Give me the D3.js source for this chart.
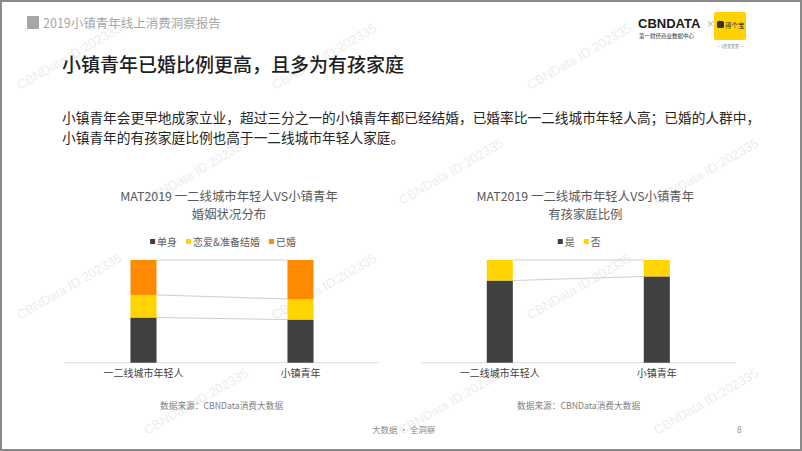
<!DOCTYPE html>
<html><head><meta charset="utf-8">
<script src="https://cdn.jsdelivr.net/npm/d3@7"></script>
<style>
html,body{margin:0;padding:0;background:#fff;}
svg{display:block;font-family:"Noto Sans CJK SC","Noto Sans",sans-serif;}
</style></head>
<body>
<svg id="c" width="802" height="451"></svg>
<script>
// ---- data ----
const categories = ["一二线城市年轻人", "小镇青年"];
const maritalSeries = ["单身", "恋爱&准备结婚", "已婚"];
const singleVals  = [44, 42];
const datingVals  = [22, 20];
const marriedVals = [34, 38];
const childSeries = ["是", "否"];
const withChildVals = [80, 84];
const noChildVals   = [20, 16];
const chart1Title = ["MAT2019 一二线城市年轻人VS小镇青年", "婚姻状况分布"];
const chart2Title = ["MAT2019 一二线城市年轻人VS小镇青年", "有孩家庭比例"];
const sourceText = "数据来源：CBNData消费大数据";

const svg = d3.select("#c");
const W = 802, H = 451;

// watermarks (kept fully inside the page)
const wm = svg.append("g").attr("fill", "#ededed").attr("font-size", 13).attr("font-family", "Liberation Sans, Arial, sans-serif");
for (let r = 0; r < 4; r++) {
  for (let i = 0; i < 3; i++) {
    const x = 20 + i * 255 + (r % 2) * 127, y = 90 + r * 115;
    wm.append("text").attr("transform", `translate(${x},${y}) rotate(-30)`).text("CBNData ID:202335");
  }
}

// frame
svg.append("rect").attr("x", 1).attr("y", 1).attr("width", W - 2).attr("height", H - 2)
  .attr("fill", "none").attr("stroke", "#8a8a8a").attr("stroke-width", 2);

// header
svg.append("rect").attr("x", 27).attr("y", 16).attr("width", 12).attr("height", 13).attr("fill", "#a6a6a6");
svg.append("text").attr("x", 43).attr("y", 27.5).attr("font-size", 12.5).attr("fill", "#a6a6a6")
  .text("2019小镇青年线上消费洞察报告");

// logo
const lg = svg.append("g");
lg.append("text").attr("x", 638).attr("y", 28).attr("font-size", 13).attr("font-weight", "bold")
  .attr("font-family", "Liberation Sans, Arial, sans-serif").attr("fill", "#1a1a1a").text("CBNDATA");
lg.append("text").attr("x", 639).attr("y", 38).attr("font-size", 5.5).attr("fill", "#333").text("第一财经商业数据中心");
lg.append("text").attr("x", 706).attr("y", 27).attr("font-size", 9).attr("fill", "#999").text("×");
lg.append("rect").attr("x", 714).attr("y", 12).attr("width", 32).attr("height", 28).attr("rx", 2).attr("fill", "#ffd200");
lg.append("rect").attr("x", 717).attr("y", 21).attr("width", 7).attr("height", 7).attr("rx", 1.5).attr("fill", "#333");
lg.append("text").attr("x", 725).attr("y", 28).attr("font-size", 6.5).attr("fill", "#333").text("得个宝");
lg.append("text").attr("x", 730).attr("y", 48).attr("font-size", 4).attr("text-anchor", "middle").attr("fill", "#777").text("— 1星星星星 —");

// title & paragraph
svg.append("text").attr("x", 62).attr("y", 72).attr("font-size", 19).attr("font-weight", 500).attr("fill", "#1f1f1f")
  .text("小镇青年已婚比例更高，且多为有孩家庭");
svg.append("text").attr("x", 62).attr("y", 123).attr("font-size", 13.7).attr("fill", "#262626")
  .text("小镇青年会更早地成家立业，超过三分之一的小镇青年都已经结婚，已婚率比一二线城市年轻人高；已婚的人群中，");
svg.append("text").attr("x", 62).attr("y", 143).attr("font-size", 13.7).attr("fill", "#262626")
  .text("小镇青年的有孩家庭比例也高于一二线城市年轻人家庭。");

// footer
svg.append("text").attr("x", 372).attr("y", 433).attr("font-size", 8.5).attr("fill", "#8c8c8c").text("大数据 · 全洞察");
svg.append("text").attr("x", 737).attr("y", 433).attr("font-size", 8.5).attr("fill", "#8c8c8c").text("8");

const y = d3.scaleLinear().domain([0, 100]).range([362.7, 260]);

function drawChart(opt) {
  const g = svg.append("g");
  const x = d3.scaleBand().domain(categories).range(opt.range).paddingInner(0.834).paddingOuter(0.417);
  const cx = (opt.range[0] + opt.range[1]) / 2;
  // title
  opt.title.forEach((t, i) => {
    g.append("text").attr("x", cx + 7).attr("y", 201 + i * 18).attr("text-anchor", "middle")
      .attr("font-size", 12.4).attr("fill", "#595959").text(t);
  });
  // legend
  const leg = g.append("g");
  let lx = 0;
  opt.series.forEach((s, i) => {
    const it = leg.append("g").attr("transform", `translate(${lx},0)`);
    it.append("rect").attr("x", 0).attr("y", -3).attr("width", 5).attr("height", 5).attr("fill", opt.colors[i]);
    const tx = it.append("text").attr("x", 7).attr("y", 3.5).attr("font-size", 10).attr("fill", "#595959").text(s);
    lx += 7 + tx.node().getComputedTextLength() + 9;
  });
  const lw = lx - 9;
  leg.attr("transform", `translate(${cx - lw / 2 + 1},242)`);
  // stacks
  const rows = categories.map((c, i) => { const o = { cat: c }; opt.series.forEach((s, k) => o[s] = opt.values[k][i]); return o; });
  const stacked = d3.stack().keys(opt.series)(rows);
  // connector lines
  stacked.forEach(layer => {
    g.append("line").attr("x1", x(categories[0]) + x.bandwidth()).attr("x2", x(categories[1]))
      .attr("y1", y(layer[0][1])).attr("y2", y(layer[1][1])).attr("stroke", "#cfcfcf").attr("stroke-width", 1);
  });
  // baseline
  g.append("line").attr("x1", opt.range[0]).attr("x2", opt.range[1]).attr("y1", y(0)).attr("y2", y(0))
    .attr("stroke", "#d9d9d9").attr("stroke-width", 1);
  stacked.forEach((layer, k) => {
    g.selectAll(null).data(layer).join("rect")
      .attr("x", d => x(d.data.cat)).attr("width", x.bandwidth())
      .attr("y", d => y(d[1])).attr("height", d => y(d[0]) - y(d[1]))
      .attr("fill", opt.colors[k]);
  });
  // axis labels
  const ax = d3.axisBottom(x).tickSize(0).tickPadding(7);
  const axg = g.append("g").attr("transform", `translate(0,${y(0)})`).call(ax);
  axg.select(".domain").remove();
  axg.selectAll("text").attr("font-size", 10).attr("fill", "#404040")
    .attr("font-family", '"Noto Sans CJK SC",sans-serif');
  // source
  g.append("text").attr("x", opt.srcX).attr("y", 409).attr("font-size", 8.7).attr("fill", "#7f7f7f").text(sourceText);
}

drawChart({ range: [65, 379], title: chart1Title, series: maritalSeries,
  values: [singleVals, datingVals, marriedVals], colors: ["#404040", "#ffd400", "#ff8a00"], srcX: 160 });
drawChart({ range: [421.3, 735.3], title: chart2Title, series: childSeries,
  values: [withChildVals, noChildVals], colors: ["#404040", "#ffd400"], srcX: 517 });
</script>
</body></html>
